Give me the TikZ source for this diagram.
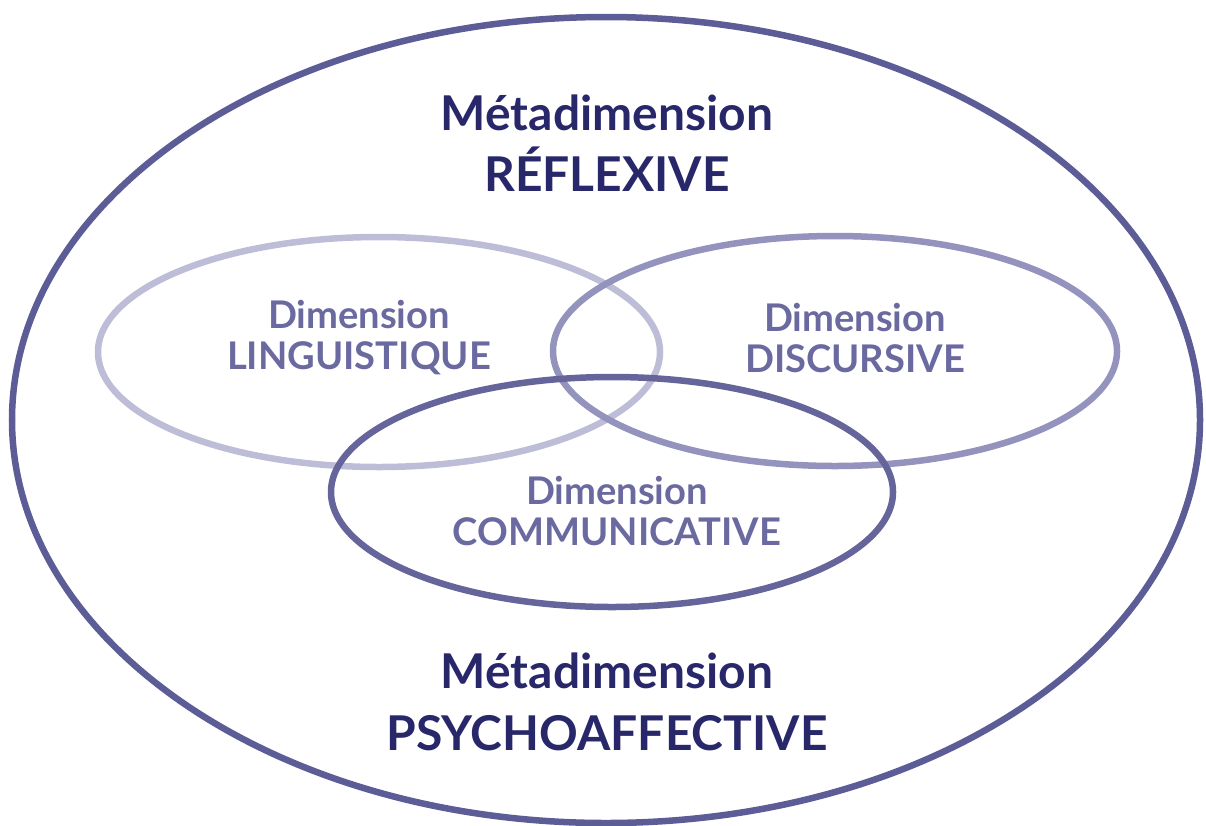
\documentclass[tikz,border=0pt]{standalone}
\usepackage{fontspec}
\setmainfont{Lato}
\usepackage{xcolor}
\usepackage{tikz}
\usetikzlibrary{calc}

\definecolor{metaring}{HTML}{5C5C96}
\definecolor{metatext}{HTML}{27276A}
\definecolor{dimtext}{HTML}{6A6AA0}
\definecolor{lingring}{HTML}{BEBDD8}
\definecolor{discring}{HTML}{9393BD}
\definecolor{commring}{HTML}{65659B}

\tikzset{
  ring/.style={line width=3.7pt},
  metalabel/.style={align=center, text=metatext, font=\bfseries\fontsize{27.3}{35}\selectfont},
  dimlabel/.style={align=center, text=dimtext, font=\bfseries\fontsize{21.7}{23.3}\selectfont}
}

\begin{document}
\begin{tikzpicture}[x=0.02cm, y=-0.02cm]
    %CADRE
    \useasboundingbox (0,0) rectangle (1206,825);
    %CENTRES
    \coordinate (M) at (606,420);
    \coordinate (L) at (379,352);
    \coordinate (D) at (835,351);
    \coordinate (C) at (612,492);
    %ELLIPSES
    \draw[ring, color=metaring] (M) ellipse [x radius=594, y radius=403];
    \draw[ring, color=lingring] (L) ellipse [x radius=281, y radius=115];
    \draw[ring, color=discring] (D) ellipse [x radius=282, y radius=115];
    \draw[ring, color=commring] (C) ellipse [x radius=281, y radius=115];
    %TEXTES
    \node[metalabel] (refl) at (607,143) {Métadimension\\RÉFLEXIVE};
    \node[metalabel] (psy) at (607,702) {Métadimension\\PSYCHOAFFECTIVE};
    \node[dimlabel] (ling) at (359,338) {Dimension\\LINGUISTIQUE};
    \node[dimlabel] (disc) at (855,338) {Dimension\\DISCURSIVE};
    \node[dimlabel] (comm) at (617,511) {Dimension\\COMMUNICATIVE};
\end{tikzpicture}
\end{document}
